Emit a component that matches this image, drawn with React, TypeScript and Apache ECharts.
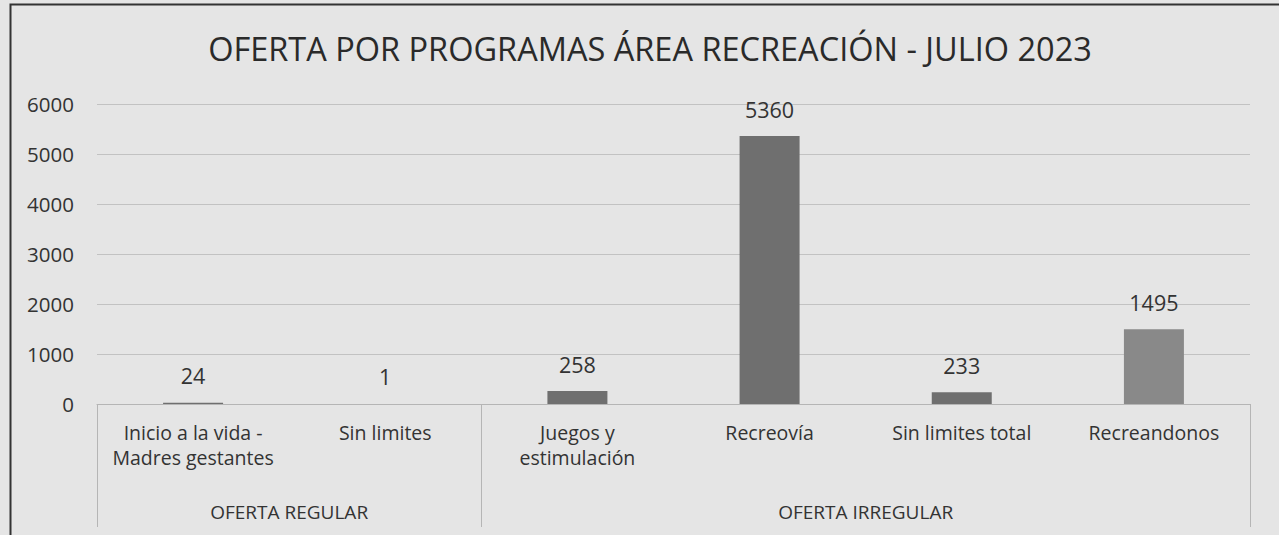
import React, { useEffect, useRef } from "react";
import * as echarts from "echarts";

const categories = [
  "Inicio a la vida -\nMadres gestantes",
  "Sin limites",
  "Juegos y\nestimulación",
  "Recreovía",
  "Sin limites total",
  "Recreandonos",
];
const values = [24, 1, 258, 5360, 233, 1495];
const groups = [
  { name: "OFERTA REGULAR", start: 0, end: 2 },
  { name: "OFERTA IRREGULAR", start: 2, end: 6 },
];
const title = "OFERTA POR PROGRAMAS ÁREA RECREACIÓN - JULIO 2023";

const FONT = "'Open Sans', 'Noto Sans', sans-serif";

export default function App() {
  const ref = useRef<HTMLDivElement>(null);
  useEffect(() => {
    if (!ref.current) return;
    const chart = echarts.init(ref.current, null, { renderer: "svg" });
    chart.setOption({
      animation: false,
      backgroundColor: "#e5e5e5",
      title: {
        text: title,
        left: 645,
        textAlign: "center",
        top: 27,
        textStyle: { fontFamily: FONT, fontSize: 32.5, fontWeight: "normal", color: "#2a2a2a" },
      },
      grid: { left: 97, right: 29, top: 104, bottom: 131, containLabel: false },
      xAxis: {
        type: "category",
        data: categories,
        axisLine: { show: true, lineStyle: { color: "#b5b5b5", width: 1 } },
        axisTick: { show: false },
        axisLabel: {
          fontFamily: FONT,
          fontSize: 19.5,
          color: "#333",
          margin: 16,
          lineHeight: 25,
          interval: 0,
        },
      },
      yAxis: {
        type: "value",
        min: 0,
        max: 6000,
        interval: 1000,
        axisLine: { show: false },
        axisTick: { show: false },
        splitLine: { lineStyle: { color: "#c2c2c2", width: 1 } },
        axisLabel: {
          fontFamily: FONT,
          fontSize: 20.5,
          color: "#333",
          margin: 23,
          formatter: (v: number) => String(v),
        },
      },
      series: [
        {
          type: "bar",
          data: values,
          barWidth: 60,
          itemStyle: {
            color: (p: any) => (p.dataIndex === 5 ? "#898989" : "#6f6f6f"),
          },
          label: {
            show: true,
            position: "top",
            distance: 16,
            fontFamily: FONT,
            fontSize: 21.5,
            color: "#333",
          },
        },
      ],
    });

    const bandW = (1279 - 97 - 29) / categories.length;
    const x0 = 97;
    const yAxisPx = chart.convertToPixel({ yAxisIndex: 0 }, 0) as number;
    const graphics: any[] = [];
    const boundaries = new Set<number>();
    groups.forEach((g) => {
      boundaries.add(g.start);
      boundaries.add(g.end);
      graphics.push({
        type: "text",
        x: x0 + ((g.start + g.end) / 2) * bandW,
        y: 512,
        style: {
          text: g.name,
          fontFamily: FONT,
          fontSize: 19,
          fill: "#333",
          textAlign: "center",
          textVerticalAlign: "middle",
        },
      });
    });
    boundaries.forEach((b) => {
      const x = Math.round(x0 + b * bandW) + 0.5;
      graphics.push({
        type: "line",
        shape: { x1: x, y1: yAxisPx, x2: x, y2: 527 },
        style: { stroke: "#b5b5b5", lineWidth: 1 },
      });
    });
    graphics.push({
      type: "polyline",
      shape: { points: [[10.5, 535], [10.5, 4.5], [1279, 4.5]] },
      style: { stroke: "#333", lineWidth: 2, fill: null },
    });
    chart.setOption({ graphic: graphics });
    return () => chart.dispose();
  }, []);
  return (
    <div
      ref={ref}
      style={{ position: "fixed", left: 0, top: 0, width: 1279, height: 535 }}
    />
  );
}
